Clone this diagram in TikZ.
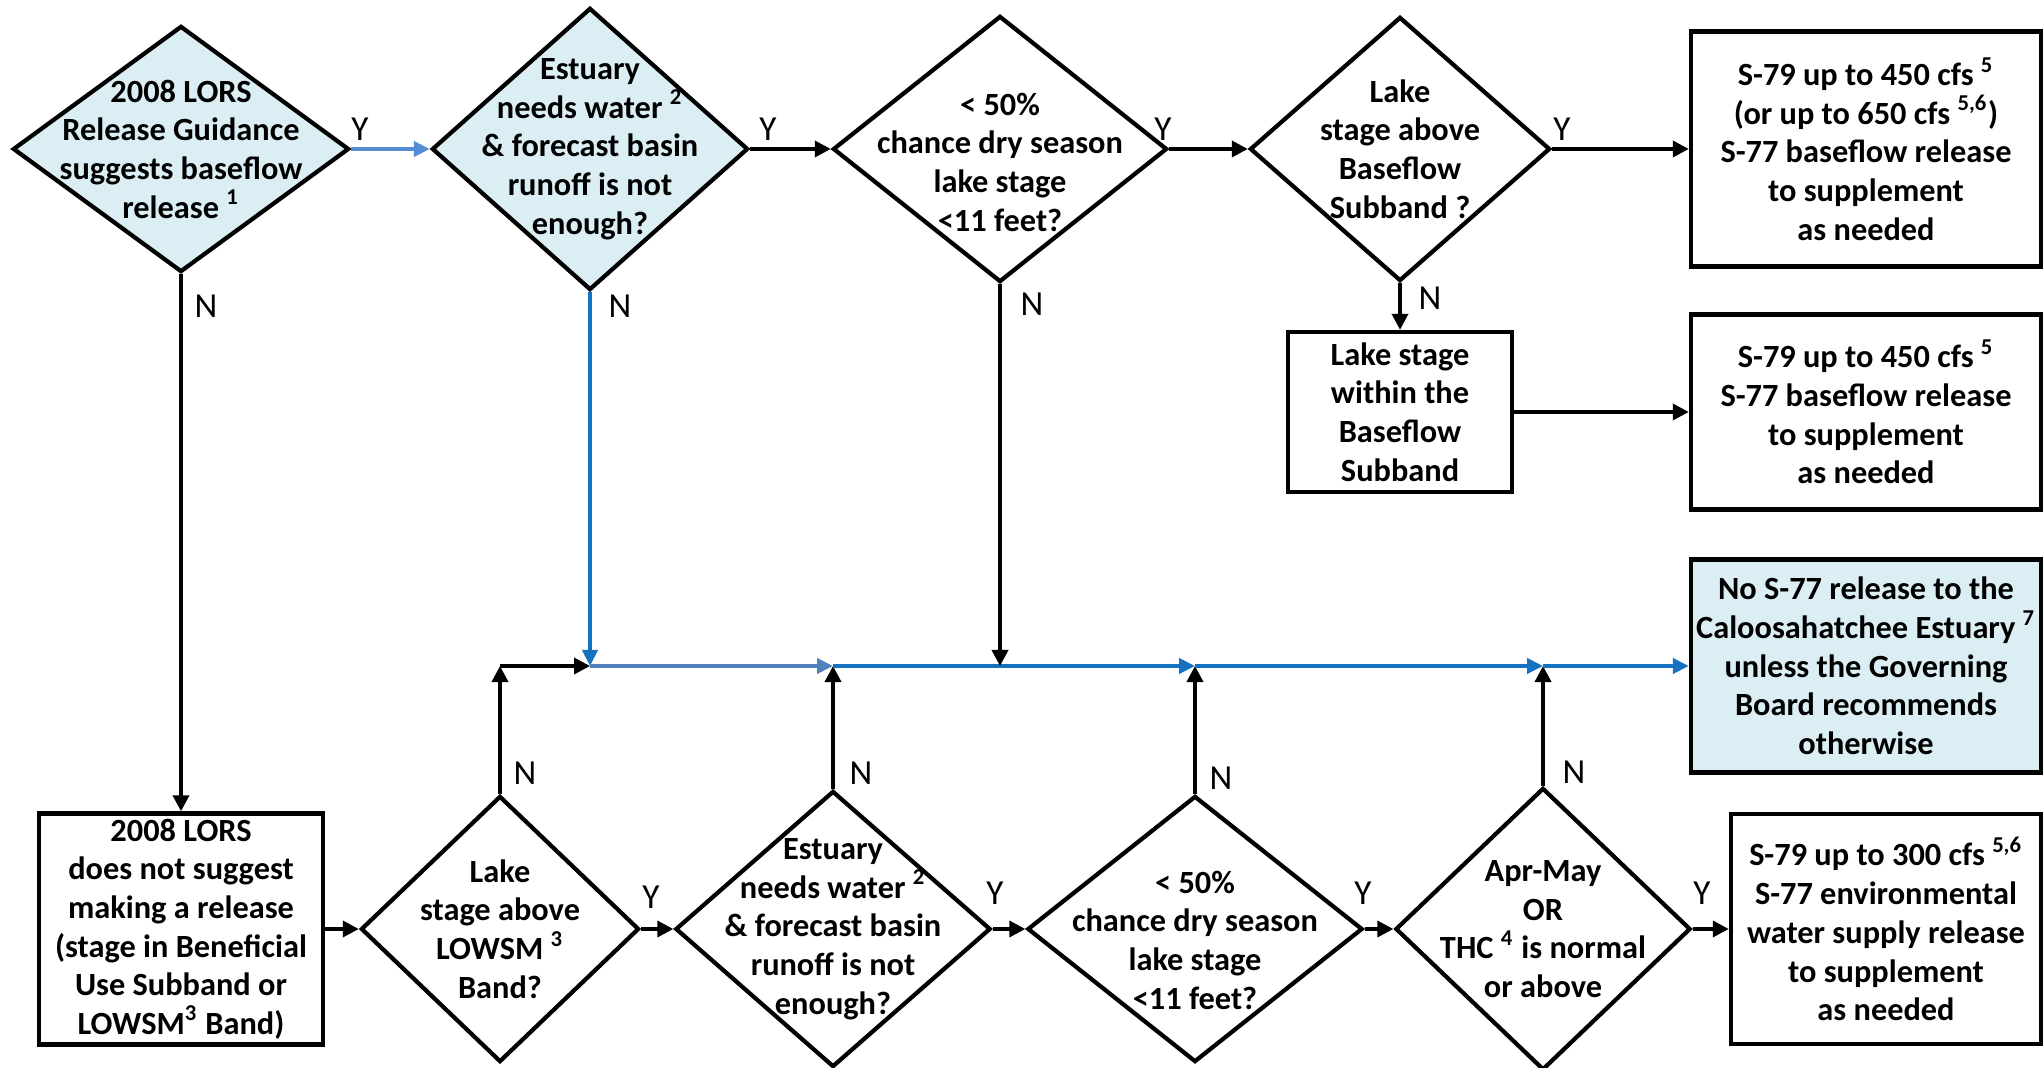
\documentclass[tikz,border=0pt]{standalone}
\usepackage{fontspec}
\setmainfont{Carlito}
\usepackage{tikz}
\usetikzlibrary{arrows.meta,shapes.geometric,calc}
\definecolor{paleblue}{RGB}{219,238,244}
\definecolor{flowblue}{RGB}{20,114,192}
\definecolor{steelblue}{RGB}{79,129,189}
\definecolor{lightflow}{RGB}{84,141,212}
\tikzset{
    decision/.style={draw, diamond, line width=1.2pt, inner sep=0pt},
    action/.style={draw, rectangle, line width=1.2pt, inner sep=0pt, align=center, font={\fontsize{9.2}{11}\selectfont\bfseries}},
    qtext/.style={align=center, inner sep=0pt, font={\fontsize{9.2}{11}\selectfont\bfseries}},
    flow/.style={-{Triangle[length=1.6mm, width=1.6mm]}, line width=1pt},
    blueflow/.style={-{Triangle[length=1.6mm, width=1.5mm]}, line width=1.2pt, flowblue},
    yn/.style={inner sep=0pt, font={\fontsize{10}{12}\selectfont}}
}

\begin{document}
\begin{tikzpicture}[x=0.01cm, y=-0.01cm]
    \useasboundingbox (0,0) rectangle (2043,1068);

    % top row of questions
    \node[decision, fill=paleblue, minimum width=3.36cm, minimum height=2.46cm] (d1) at (181,149) {};
    \node[qtext] (d1t) at (d1) {2008 LORS\\Release Guidance\\suggests baseflow\\release \textsuperscript{1}};
    \node[decision, fill=paleblue, minimum width=3.16cm, minimum height=2.82cm] (d2) at (590,149) {};
    \node[qtext] (d2t) at (d2) {Estuary\\needs water \textsuperscript{2}\\\& forecast basin\\runoff is not\\enough?};
    \node[decision, minimum width=3.34cm, minimum height=2.66cm] (d3) at (1000,149) {};
    \node[qtext, yshift=-1.3mm] (d3t) at (d3) {< 50\%\\chance dry season\\lake stage\\<11 feet?};
    \node[decision, minimum width=3.00cm, minimum height=2.64cm] (d4) at (1400,149) {};
    \node[qtext] (d4t) at (d4) {Lake\\stage above\\Baseflow\\Subband ?};

    \node[action, minimum width=3.5cm, minimum height=2.35cm] (r1) at (1866,149) {S-79 up to 450 cfs \textsuperscript{5}\\(or up to 650 cfs \textsuperscript{5,6})\\S-77 baseflow release\\to supplement\\as needed};
    \node[action, minimum width=2.24cm, minimum height=1.60cm] (lw) at (1400,412) {Lake stage\\within the\\Baseflow\\Subband};
    \node[action, minimum width=3.5cm, minimum height=1.95cm] (r2) at (1866,412) {S-79 up to 450 cfs \textsuperscript{5}\\S-77 baseflow release\\to supplement\\as needed};
    \node[action, fill=paleblue, minimum width=3.5cm, minimum height=2.13cm] (r3) at (1866,666) {No S-77 release to the\\Caloosahatchee Estuary \textsuperscript{7}\\unless the Governing\\Board recommends\\otherwise};

    % bottom row of questions
    \node[action, minimum width=2.84cm, minimum height=2.31cm] (b0) at (181,929) {2008 LORS\\does not suggest\\making a release\\(stage in Beneficial\\Use Subband or\\LOWSM\textsuperscript{3} Band)};
    \node[decision, minimum width=2.78cm, minimum height=2.66cm] (b1) at (500,929) {};
    \node[qtext] (b1t) at (b1) {Lake\\stage above\\LOWSM \textsuperscript{3}\\Band?};
    \node[decision, minimum width=3.15cm, minimum height=2.76cm] (b2) at (833,929) {};
    \node[qtext] (b2t) at (b2) {Estuary\\needs water \textsuperscript{2}\\\& forecast basin\\runoff is not\\enough?};
    \node[decision, minimum width=3.35cm, minimum height=2.66cm] (b3) at (1195,929) {};
    \node[qtext, yshift=-1.1mm] (b3t) at (b3) {< 50\%\\chance dry season\\lake stage\\<11 feet?};
    \node[decision, minimum width=2.95cm, minimum height=2.82cm] (b4) at (1543,929) {};
    \node[qtext] (b4t) at (b4) {Apr-May\\OR\\THC \textsuperscript{4} is normal\\or above};
    \node[action, minimum width=3.10cm, minimum height=2.30cm] (r4) at (1886,929) {S-79 up to 300 cfs \textsuperscript{5,6}\\S-77 environmental\\water supply release\\to supplement\\as needed};

    % points on the "no release" line
    \coordinate (c1) at (500,666);
    \coordinate (j1) at (590,666);
    \coordinate (j2) at (b2 |- j1);
    \coordinate (m3) at (d3 |- j1);
    \coordinate (j3) at (b3 |- j1);
    \coordinate (j4) at (b4 |- j1);

    \draw[blueflow, lightflow] (d1.east) -- (d2.west);
    \draw[flow] (d2.east) -- (d3.west);
    \draw[flow] (d3.east) -- (d4.west);
    \draw[flow] (d4.east) -- (r1.west);
    \draw[flow] (d4.south) -- (lw.north);
    \draw[flow] (lw.east) -- (r2.west);
    \draw[flow] (d1.south) -- (b0.north);

    \draw[flow] (b0.east) -- (b1.west);
    \draw[flow] (b1.east) -- (b2.west);
    \draw[flow] (b2.east) -- (b3.west);
    \draw[flow] (b3.east) -- (b4.west);
    \draw[flow] (b4.east) -- (r4.west);

    \draw[blueflow] (d2.south) -- (j1);
    \draw[flow] (b1.north) -- (c1);
    \draw[flow] (c1) -- (j1);
    \draw[blueflow, steelblue] (j1) -- (j2);
    \draw[flow] (b2.north) -- (j2);
    \draw[blueflow] (j2) -- (j3);
    \draw[flow] (d3.south) -- (m3);
    \draw[flow] (b3.north) -- (j3);
    \draw[blueflow] (j3) -- (j4);
    \draw[flow] (b4.north) -- (j4);
    \draw[blueflow] (j4) -- (r3.west);

    % Y / N labels
    \node[yn] (y1) at (360,129) {Y};
    \node[yn] (y2) at (768,129) {Y};
    \node[yn] (y3) at (1163,129) {Y};
    \node[yn] (y4) at (1562,129) {Y};
    \node[yn] (n1) at (206,306) {N};
    \node[yn] (n2) at (620,306) {N};
    \node[yn] (n3) at (1032,304) {N};
    \node[yn] (n4) at (1430,298) {N};
    \node[yn] (yb1) at (651,897) {Y};
    \node[yn] (yb2) at (995,893) {Y};
    \node[yn] (yb3) at (1363,893) {Y};
    \node[yn] (yb4) at (1702,893) {Y};
    \node[yn] (nb1) at (525,773) {N};
    \node[yn] (nb2) at (861,773) {N};
    \node[yn] (nb3) at (1221,778) {N};
    \node[yn] (nb4) at (1574,772) {N};
\end{tikzpicture}
\end{document}
